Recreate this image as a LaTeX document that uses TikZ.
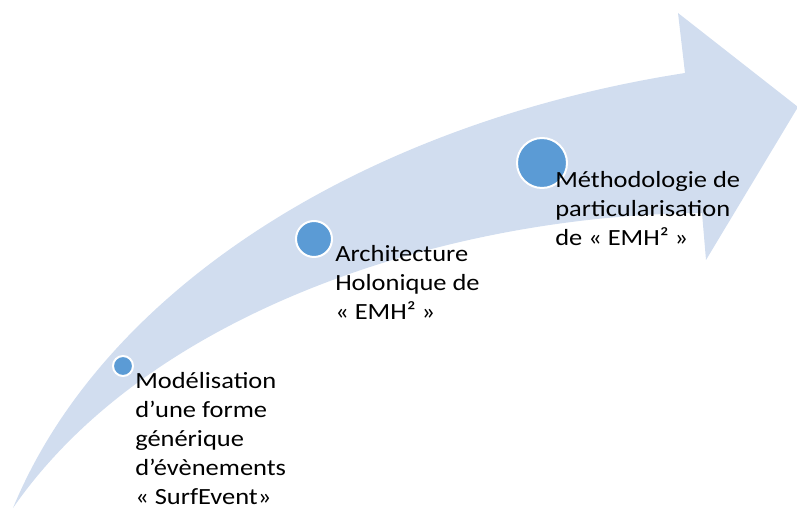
\documentclass[tikz,border=0pt]{standalone}
\usepackage{fontspec}
\setmainfont{Carlito}[FakeStretch=1.14]
\definecolor{arrowfill}{RGB}{209,221,239}
\definecolor{dotblue}{RGB}{91,155,213}
\tikzset{
		dot/.style={circle, fill=dotblue, draw=white, line width=1.5pt, inner sep=0pt},
		stage/.style={anchor=north west, align=left, inner sep=0pt, font=\fontsize{17.4}{21.75}\selectfont}
	}

\begin{document}
\begin{tikzpicture}[x=0.75pt, y=-0.75pt]
		\useasboundingbox (0,0) rectangle (797,509);
		% curved arrow
		\fill[arrowfill] (13,508) .. controls (105,285) and (370,122) .. (685,73) -- (678,13) -- (798,107) -- (706,260) -- (702,213) .. controls (450,215) and (150,310) .. (13,508) -- cycle;
		% stages
		\node[dot, minimum size=15pt] (dotA) at (123,366) {};
		\node[stage] (stageA) at (135,367.7) {\strut Modélisation\\d’une forme\\générique\\d’évènements\\« SurfEvent»};
		\node[dot, minimum size=27pt] (dotB) at (314,239) {};
		\node[stage] (stageB) at (335,240.7) {\strut Architecture\\Holonique de\\« EMH² »};
		\node[dot, minimum size=37.5pt] (dotC) at (542,163) {};
		\node[stage] (stageC) at (555,166.7) {\strut Méthodologie de\\particularisation\\de « EMH² »};
	\end{tikzpicture}
\end{document}
